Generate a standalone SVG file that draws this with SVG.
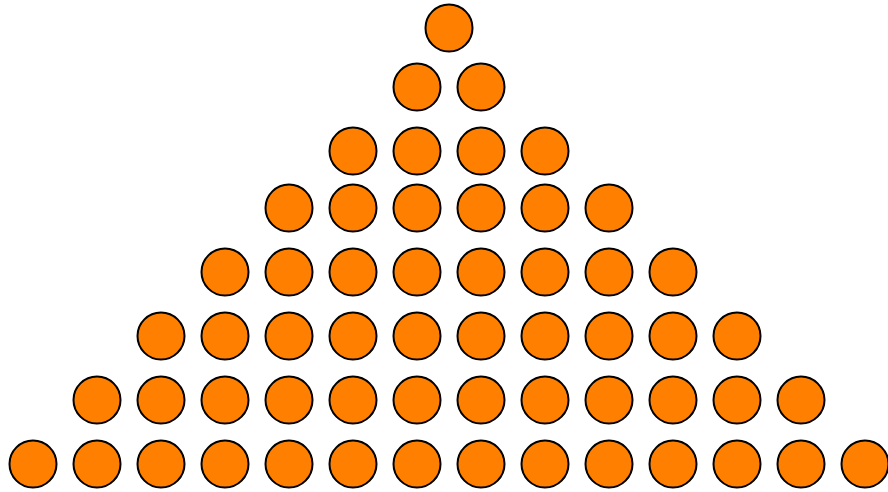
<svg xmlns="http://www.w3.org/2000/svg" width="888" height="492" viewBox="0 0 888 492">
<style>
circle{fill:#ff8000;stroke:#000;stroke-width:2}
</style>
<rect width="888" height="492" fill="#fff"/>
<g id="row1"><g id="n1_1"><circle cx="449" cy="28" r="23.5"/></g></g>
<g id="row2"><g id="n2_1"><circle cx="417" cy="87" r="23.5"/></g><g id="n2_2"><circle cx="481" cy="87" r="23.5"/></g></g>
<g id="row3">
<g id="n3_1"><circle cx="353" cy="151" r="23.5"/></g><g id="n3_2"><circle cx="417" cy="151" r="23.5"/></g><g id="n3_3"><circle cx="481" cy="151" r="23.5"/></g><g id="n3_4"><circle cx="545" cy="151" r="23.5"/></g>
</g>
<g id="row4">
<g id="n4_1"><circle cx="289" cy="208" r="23.5"/></g><g id="n4_2"><circle cx="353" cy="208" r="23.5"/></g><g id="n4_3"><circle cx="417" cy="208" r="23.5"/></g><g id="n4_4"><circle cx="481" cy="208" r="23.5"/></g><g id="n4_5"><circle cx="545" cy="208" r="23.5"/></g><g id="n4_6"><circle cx="609" cy="208" r="23.5"/></g>
</g>
<g id="row5">
<g id="n5_1"><circle cx="225" cy="272" r="23.5"/></g><g id="n5_2"><circle cx="289" cy="272" r="23.5"/></g><g id="n5_3"><circle cx="353" cy="272" r="23.5"/></g><g id="n5_4"><circle cx="417" cy="272" r="23.5"/></g><g id="n5_5"><circle cx="481" cy="272" r="23.5"/></g><g id="n5_6"><circle cx="545" cy="272" r="23.5"/></g><g id="n5_7"><circle cx="609" cy="272" r="23.5"/></g><g id="n5_8"><circle cx="673" cy="272" r="23.5"/></g>
</g>
<g id="row6">
<g id="n6_1"><circle cx="161" cy="336" r="23.5"/></g><g id="n6_2"><circle cx="225" cy="336" r="23.5"/></g><g id="n6_3"><circle cx="289" cy="336" r="23.5"/></g><g id="n6_4"><circle cx="353" cy="336" r="23.5"/></g><g id="n6_5"><circle cx="417" cy="336" r="23.5"/></g><g id="n6_6"><circle cx="481" cy="336" r="23.5"/></g><g id="n6_7"><circle cx="545" cy="336" r="23.5"/></g><g id="n6_8"><circle cx="609" cy="336" r="23.5"/></g><g id="n6_9"><circle cx="673" cy="336" r="23.5"/></g><g id="n6_10"><circle cx="737" cy="336" r="23.5"/></g>
</g>
<g id="row7">
<g id="n7_1"><circle cx="97" cy="400" r="23.5"/></g><g id="n7_2"><circle cx="161" cy="400" r="23.5"/></g><g id="n7_3"><circle cx="225" cy="400" r="23.5"/></g><g id="n7_4"><circle cx="289" cy="400" r="23.5"/></g><g id="n7_5"><circle cx="353" cy="400" r="23.5"/></g><g id="n7_6"><circle cx="417" cy="400" r="23.5"/></g><g id="n7_7"><circle cx="481" cy="400" r="23.5"/></g><g id="n7_8"><circle cx="545" cy="400" r="23.5"/></g><g id="n7_9"><circle cx="609" cy="400" r="23.5"/></g><g id="n7_10"><circle cx="673" cy="400" r="23.5"/></g><g id="n7_11"><circle cx="737" cy="400" r="23.5"/></g><g id="n7_12"><circle cx="801" cy="400" r="23.5"/></g>
</g>
<g id="row8">
<g id="n8_1"><circle cx="33" cy="464" r="23.5"/></g><g id="n8_2"><circle cx="97" cy="464" r="23.5"/></g><g id="n8_3"><circle cx="161" cy="464" r="23.5"/></g><g id="n8_4"><circle cx="225" cy="464" r="23.5"/></g><g id="n8_5"><circle cx="289" cy="464" r="23.5"/></g><g id="n8_6"><circle cx="353" cy="464" r="23.5"/></g><g id="n8_7"><circle cx="417" cy="464" r="23.5"/></g><g id="n8_8"><circle cx="481" cy="464" r="23.5"/></g><g id="n8_9"><circle cx="545" cy="464" r="23.5"/></g><g id="n8_10"><circle cx="609" cy="464" r="23.5"/></g><g id="n8_11"><circle cx="673" cy="464" r="23.5"/></g><g id="n8_12"><circle cx="737" cy="464" r="23.5"/></g><g id="n8_13"><circle cx="801" cy="464" r="23.5"/></g><g id="n8_14"><circle cx="865" cy="464" r="23.5"/></g>
</g>
<g id="connectors"/>
</svg>
